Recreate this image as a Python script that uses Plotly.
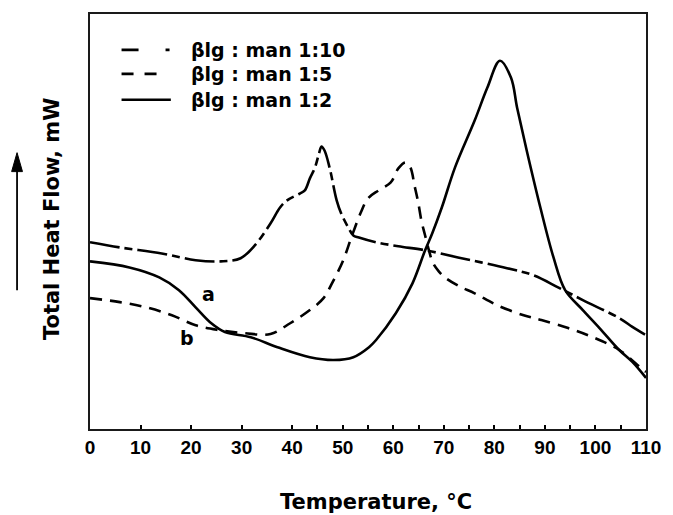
import plotly.graph_objects as go

# Temperature (°C) and total heat flow (arbitrary mW scale) for each mixture
temp_1_10 = [0, 5.9, 14.2, 20.9, 25.9, 29.8, 32.6, 35.7, 37.6, 39.0, 41.5, 42.5, 43.5,
             44.5, 45.3, 45.8, 46.4, 47.4, 48.8, 49.7, 51.1, 52.1, 53.2, 56.6, 61.0,
             66.3, 72.8, 82.5, 87.8, 92.6, 97.5, 104.7, 107.3, 110]
flow_1_10 = [4.68, 4.55, 4.40, 4.23, 4.20, 4.28, 4.60, 5.15, 5.55, 5.73, 5.90, 5.98, 6.28,
             6.55, 6.90, 7.08, 6.98, 6.55, 5.73, 5.40, 5.05, 4.85, 4.80, 4.68, 4.58,
             4.48, 4.30, 4.03, 3.85, 3.55, 3.23, 2.78, 2.56, 2.35]

temp_1_5 = [0, 5.9, 11.1, 16.2, 20.9, 25.4, 30.6, 35.7, 39.6, 43.5, 46.2, 48.0, 50.1,
            51.7, 53.6, 55.0, 57.1, 59.5, 61.0, 62.4, 63.4, 64.2, 64.9, 65.6, 66.3,
            67.0, 67.9, 69.0, 70.2, 73.0, 76.1, 80.6, 85.8, 89.3, 94.6, 99.5, 104.7,
            108.8, 110]
flow_1_5 = [3.28, 3.18, 3.05, 2.85, 2.60, 2.48, 2.40, 2.38, 2.65, 2.98, 3.28, 3.68, 4.23,
            4.80, 5.43, 5.78, 5.98, 6.18, 6.53, 6.68, 6.55, 6.10, 5.70, 5.20, 4.85,
            4.50, 4.15, 3.95, 3.80, 3.58, 3.40, 3.10, 2.85, 2.73, 2.53, 2.30, 1.98,
            1.55, 1.43]

temp_1_2 = [0, 7.8, 13.7, 17.6, 20.9, 24.0, 26.7, 31.8, 37.1, 43.5, 48.2, 52.1, 55.2,
            56.6, 60.5, 63.8, 66.3, 67.7, 69.6, 72.2, 76.1, 78.6, 81.1,
            83.3, 84.5, 86.4, 89.1, 91.7, 94.0, 97.5, 100.8, 104.7, 107.3, 110]
flow_1_2 = [4.20, 4.05, 3.80, 3.48, 3.05, 2.65, 2.43, 2.30, 2.05, 1.80, 1.73, 1.80, 2.05,
            2.23, 2.90, 3.65, 4.48, 4.90, 5.55, 6.55, 7.73, 8.55, 9.23,
            8.80, 8.05, 6.98, 5.55, 4.30, 3.48, 2.98, 2.53, 1.98, 1.68, 1.28]

series_names = ["βlg : man 1:10", "βlg : man 1:5", "βlg : man 1:2"]
x_ticks = [0, 10, 20, 30, 40, 50, 60, 70, 80, 90, 100, 110]
x_minor_ticks = [45, 55, 65, 75, 85, 95, 105]

W, H = 673, 515
ML, MR, MT, MB = 90, 19, 13, 86
PW, PH = W - ML - MR, H - MT - MB


def px(x):
    return (x - ML) / PW


def py(y):
    return (H - MB - y) / PH


LABEL_FONT = dict(family="DejaVu Sans", size=19, color="black", weight="bold")
TITLE_FONT = dict(family="DejaVu Sans", size=21, color="black", weight="bold")
TICK_FONT = dict(family="Liberation Sans, Arial", size=19, color="black", weight="bold")

line_dashes = ["30px,5px,8px,5px", "12px,8px", "solid"]
legend_dash = ["17px,27px,4px,10px", "12px,11px", "solid"]
legend_end = [172, 160, 172]

fig = go.Figure()
for name, t, f, dash in zip(series_names,
                            [temp_1_10, temp_1_5, temp_1_2],
                            [flow_1_10, flow_1_5, flow_1_2], line_dashes):
    fig.add_trace(go.Scatter(
        x=t, y=f, name=name, mode="lines",
        line=dict(color="black", width=2.6, dash=dash,
                  shape="spline", smoothing=1.0),
        showlegend=False,
    ))

shapes = []
annotations = []

# Legend key drawn in paper space
for i, (name, row_y) in enumerate(zip(series_names, [49, 73, 99])):
    shapes.append(dict(type="line", xref="paper", yref="paper",
                       x0=px(122), x1=px(legend_end[i]), y0=py(row_y), y1=py(row_y),
                       line=dict(color="black", width=2.6, dash=legend_dash[i])))
    annotations.append(dict(xref="paper", yref="paper", x=px(190), y=py(row_y),
                            xanchor="left", yanchor="middle", text=name,
                            showarrow=False, font=LABEL_FONT))

# Curve labels
annotations.append(dict(x=23.4, y=3.38, xref="x", yref="y", text="a",
                        showarrow=False, font=LABEL_FONT))
annotations.append(dict(x=19.1, y=2.28, xref="x", yref="y", text="b",
                        showarrow=False, font=LABEL_FONT))

# Axis titles
annotations.append(dict(xref="paper", yref="paper", x=px(380), y=py(502),
                        text="Temperature, °C", showarrow=False,
                        xanchor="center", yanchor="middle", font=TITLE_FONT))
annotations.append(dict(xref="paper", yref="paper", x=px(51), y=py(219),
                        text="Total Heat Flow, mW", showarrow=False, textangle=-90,
                        xanchor="center", yanchor="middle", font=TITLE_FONT))

# Upward arrow beside the heat-flow title
shapes.append(dict(type="line", xref="paper", yref="paper",
                   x0=px(16), x1=px(16), y0=py(290), y1=py(166),
                   line=dict(color="black", width=1.8)))
shapes.append(dict(type="path", xref="paper", yref="paper",
                   path=f"M {px(16)} {py(152)} L {px(10.5)} {py(171)} "
                        f"L {px(21.5)} {py(171)} Z",
                   fillcolor="black", line=dict(color="black", width=1)))

fig.update_layout(
    width=W, height=H,
    margin=dict(l=ML, r=MR, t=MT, b=MB, pad=0),
    paper_bgcolor="white", plot_bgcolor="white",
    shapes=shapes, annotations=annotations,
    showlegend=False,
)
fig.update_xaxes(
    range=[0, 110], tickvals=x_ticks, ticktext=[str(v) for v in x_ticks],
    ticks="inside", ticklen=4, tickwidth=1.5, tickcolor="black",
    tickfont=TICK_FONT, showgrid=False, zeroline=False,
    showline=True, mirror=True, linewidth=2, linecolor="#1a1a1a",
    minor=dict(tickvals=x_minor_ticks, ticks="inside", ticklen=4,
               tickwidth=1.5, tickcolor="black", showgrid=False),
)
fig.update_yaxes(
    range=[0, 10.4], showticklabels=False, ticks="", showgrid=False,
    zeroline=False, showline=True, mirror=True, linewidth=2, linecolor="#1a1a1a",
)

fig.write_html("out.html")
